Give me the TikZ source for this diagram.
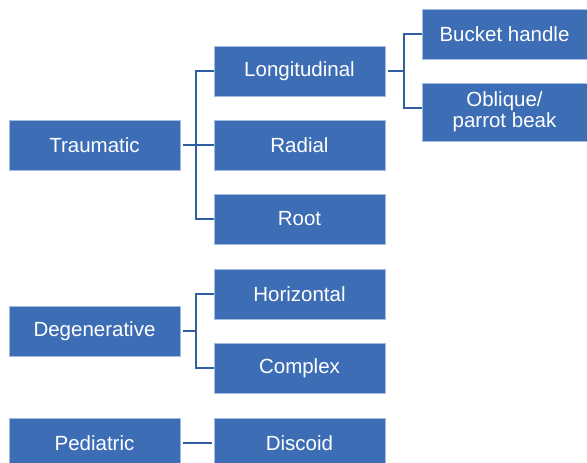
\documentclass[tikz,border=0pt]{standalone}
\usepackage{fontspec}
\setmainfont{Liberation Sans}
\definecolor{boxfill}{HTML}{3D6EB5}
\definecolor{boxedge}{HTML}{A3BBE0}
\definecolor{linec}{HTML}{2F5FA0}
\begin{document}
\begin{tikzpicture}[x=1pt,y=-1pt,
  box/.style={draw=boxedge,line width=0.8pt,fill=boxfill,text=white,
    font=\fontsize{20.5}{23}\selectfont,inner sep=0pt,align=center,
    minimum width=171pt,minimum height=50pt},
  conn/.style={draw=linec,line width=2pt}]
\useasboundingbox (0,0) rectangle (587,463);
\clip (0,0) rectangle (587,463);
\node[box] (trau) at (94.5,145) {Traumatic};
\node[box] (long) at (299.5,71) {Longitudinal};
\node[box] (rad) at (299.5,145) {Radial};
\node[box] (root) at (299.5,219) {Root};
\node[box,minimum width=165pt] (buck) at (504.5,34) {Bucket handle};
\node[box,minimum width=165pt,minimum height=58pt] (obl) at (504.5,112) {Oblique/\\[-2pt]parrot beak};
\node[box] (deg) at (94.5,331) {Degenerative};
\node[box] (hor) at (299.5,294) {Horizontal};
\node[box] (comp) at (299.5,368) {Complex};
\node[box] (ped) at (94.5,443) {Pediatric};
\node[box] (disc) at (299.5,443) {Discoid};
\draw[conn] ([xshift=3pt]trau.east) -- ++(13,0) coordinate (tb);
\draw[conn] (tb) |- (long.west);
\draw[conn] (tb) -- (rad.west);
\draw[conn] (tb) |- (root.west);
\draw[conn] ([xshift=3pt]long.east) -- ++(16,0) coordinate (lb);
\draw[conn] (lb) |- (buck.west);
\draw[conn] (lb) |- ([yshift=4pt]obl.west);
\draw[conn] ([xshift=3pt]deg.east) -- ++(13,0) coordinate (db);
\draw[conn] (db) |- (hor.west);
\draw[conn] (db) |- (comp.west);
\draw[conn] ([xshift=3pt]ped.east) -- ([xshift=-2pt]disc.west);
\end{tikzpicture}
\end{document}
